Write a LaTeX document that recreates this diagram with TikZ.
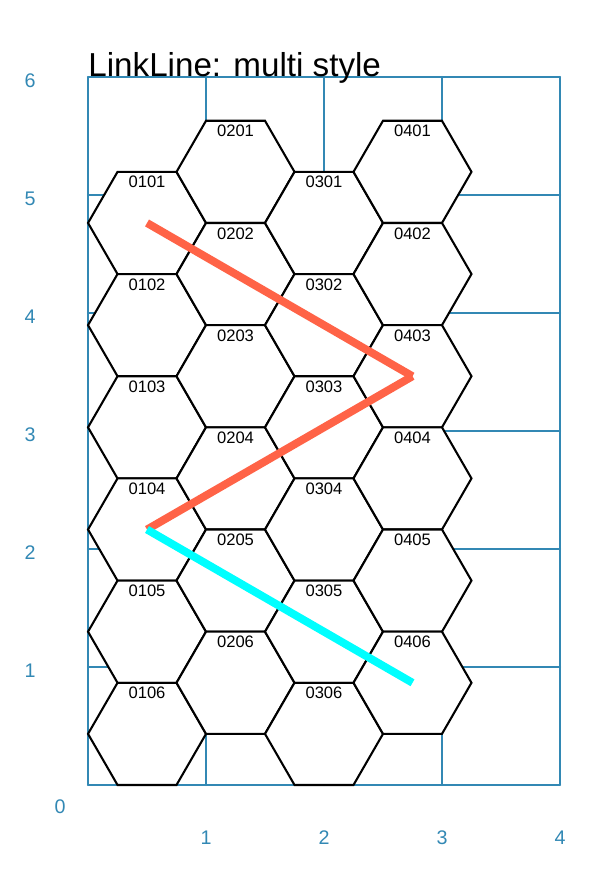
\documentclass[tikz,border=0pt]{standalone}
\usepackage{fontspec}
\setmainfont{Liberation Sans}
\definecolor{gridblue}{HTML}{3288B4}
\definecolor{tomatored}{HTML}{FF6347}
\definecolor{cyanline}{HTML}{00FFFF}
\tikzset{
  gridline/.style={draw=gridblue, line width=1pt, line cap=round},
  axislabel/.style={text=gridblue, font=\fontsize{9.5}{11}\selectfont, inner sep=0pt},
  hexcell/.style={draw=black, fill=white, line width=1pt, line join=miter},
  hexlabel/.style={font=\fontsize{8}{9}\selectfont, inner sep=0pt},
  titletext/.style={font=\fontsize{16}{19}\selectfont, inner sep=0pt, anchor=base west},
  redlink/.style={draw=tomatored, line width=3.8pt, line cap=butt},
  cyanlink/.style={draw=cyanline, line width=3.8pt, line cap=butt}
}
\begin{document}
\begin{tikzpicture}[x=2cm,y=2cm]
\useasboundingbox (-0.746,-0.763) rectangle (4.466,6.653);
% grid
\foreach \i in {0,...,4} \draw[gridline] (\i,0) -- (\i,6);
\foreach \j in {0,...,6} \draw[gridline] (0,\j) -- (4,\j);
% axis labels
\node[axislabel] (ax0) at (-0.237,-0.185) {0};
\foreach \i in {1,...,4} \node[axislabel] (ax\i) at (\i,-0.447) {\i};
\foreach \j in {1,...,6} \node[axislabel] (ay\j) at (-0.49,\j-0.028) {\j};
% hexes
\foreach \c in {1,...,4}{
  \foreach \r in {1,...,6}{
    \pgfmathsetmacro{\hx}{0.5+0.75*(\c-1)}
    \pgfmathsetmacro{\hy}{(isodd(\c) ? 0.4330127 : 0.8660254) + (6-\r)*0.8660254}
    \coordinate (c0\c0\r) at (\hx,\hy);
    \draw[hexcell] (c0\c0\r) ++(0:0.5) -- ++(120:0.5) -- ++(180:0.5) -- ++(240:0.5) -- ++(300:0.5) -- ++(0:0.5) -- cycle;
    \node[hexlabel] (h0\c0\r) at ([yshift=0.69cm]c0\c0\r) {0\c0\r};
  }
}
% title
\node[titletext] (title) at (0,6.008) {LinkLine: multi style};
% links
\draw[redlink] (c0101) -- (c0403);
\draw[redlink] (c0403) -- (c0104);
\draw[cyanlink] (c0104) -- (c0406);
\end{tikzpicture}
\end{document}
